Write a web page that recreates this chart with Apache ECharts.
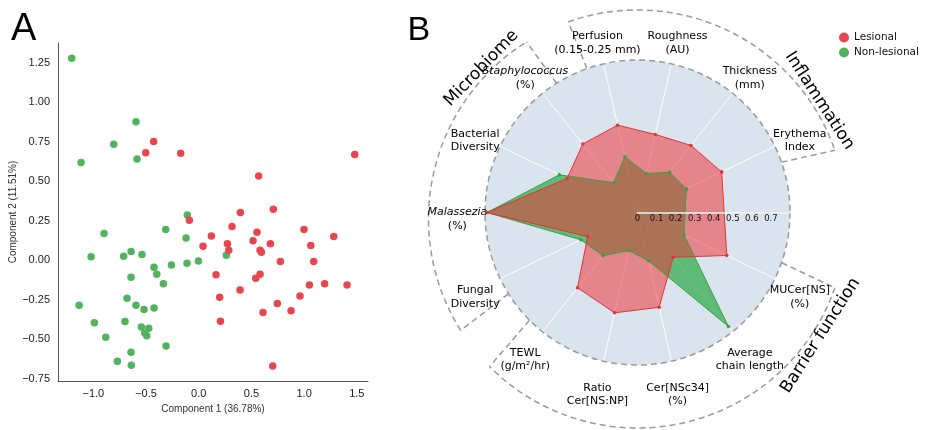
<!DOCTYPE html>
<html><head><meta charset="utf-8">
<script src="https://cdn.jsdelivr.net/npm/echarts@6/dist/echarts.min.js"></script>
<style>html,body{margin:0;padding:0;background:#fff}#c{width:931px;height:430px}</style>
</head><body><div id="c"></div>
<script>
// ---------------- Panel A : PCA scatter ----------------
const lesionalPCA = [[-0.427,0.751],[-0.503,0.681],[-0.171,0.677],[1.480,0.669],[0.569,0.534],[-0.089,0.253],[0.395,0.302],[0.708,0.323],[0.316,0.213],[0.120,0.154],[0.041,0.089],[0.272,0.105],[0.285,0.063],[0.553,0.177],[0.515,0.124],[0.582,0.063],[0.595,0.051],[0.680,0.105],[0.999,0.194],[1.063,0.093],[1.281,0.150],[0.775,-0.008],[1.091,-0.008],[0.164,-0.091],[0.582,-0.089],[0.541,-0.114],[0.392,-0.188],[1.050,-0.156],[1.195,-0.148],[1.407,-0.156],[0.199,-0.234],[0.961,-0.226],[0.746,-0.274],[0.610,-0.331],[0.876,-0.319],[0.206,-0.386],[0.702,-0.669]];
const nonLesionalPCA = [[-1.205,1.278],[-0.595,0.876],[-0.806,0.734],[-1.116,0.618],[-0.585,0.641],[-0.108,0.287],[-0.313,0.194],[-0.898,0.169],[-0.120,0.141],[-1.021,0.023],[-0.712,0.025],[-0.642,0.055],[-0.538,0.036],[-0.424,-0.044],[-0.398,-0.089],[-0.259,-0.030],[-0.111,-0.019],[-0.003,-0.004],[0.262,0.032],[-0.642,-0.108],[-0.335,-0.148],[-0.680,-0.241],[-1.135,-0.285],[-0.595,-0.285],[-0.519,-0.312],[-0.424,-0.302],[-0.699,-0.388],[-0.990,-0.395],[-0.544,-0.422],[-0.474,-0.430],[-0.512,-0.460],[-0.493,-0.477],[-0.882,-0.487],[-0.310,-0.542],[-0.642,-0.582],[-0.772,-0.639],[-0.639,-0.665]];
const xTickValues = [-1, -0.5, 0, 0.5, 1, 1.5];
const xTickLabels = ['\u22121.0', '\u22120.5', '0.0', '0.5', '1.0', '1.5'];
const yTickValues = [-0.75, -0.5, -0.25, 0, 0.25, 0.5, 0.75, 1, 1.25];
const yTickLabels = ['\u22120.75', '\u22120.50', '\u22120.25', '0.00', '0.25', '0.50', '0.75', '1.00', '1.25'];

// ---------------- Panel B : radar profile ----------------
// 14 angular slots; slot 0 (0 deg) carries the radial scale and has no variable.
const radarAxes = ['Erythema\nIndex', 'Thickness\n(mm)', 'Roughness\n(AU)', 'Perfusion\n(0.15-0.25 mm)',
  'Staphylococcus\n(%)', 'Bacterial\nDiversity', 'Malassezia\n(%)', 'Fungal\nDiversity',
  'TEWL\n(g/m\u00b2/hr)', 'Ratio\nCer[NS:NP]', 'Cer[NSc34]\n(%)', 'Average\nchain length', 'MUCer[NS]\n(%)'];
const italicNames = ['Staphylococcus', 'Malassezia'];
const lesionalProfile    = [0.49, 0.45, 0.42, 0.47, 0.46, 0.41, 0.79, 0.29, 0.505, 0.54, 0.51, 0.30, 0.52];
const nonLesionalProfile = [0.285, 0.27, 0.21, 0.30, 0.20, 0.455, 0.79, 0.33, 0.29, 0.205, 0.26, 0.765, 0.27];
const radialTickValues = [0, 0.1, 0.2, 0.3, 0.4, 0.5, 0.6, 0.7];
const radialTickLabels = ['0', '0.1', '0.2', '0.3', '0.4', '0.5', '0.6', '0.7'];
const radarGroups = [
  {name: 'Inflammation', first: 1, last: 4, titleAngle: 33},
  {name: 'Microbiome', first: 5, last: 8, titleAngle: 136},
  {name: 'Barrier function', first: 9, last: 13, titleAngle: 327.5}
];

// ---------------- layout constants ----------------
const SLOTS = 14;
const slotAngle = k => k * 360 / SLOTS;
const C = [637.5, 212.5], R = 152.5;        // radar centre / radius (px)
const BC = [637.5, 219], RB = 209, RT = 217;  // bracket arc centre / radius / title radius
const BRACKET_PAD = 6.5;
const LABEL_R = 0.945;                         // in radial-axis units
const RED = '#e8464e', GREEN = '#52b35e';

function pt(c, r, deg) { const a = deg * Math.PI / 180; return [c[0] + r * Math.cos(a), c[1] - r * Math.sin(a)]; }
function pick(vals, labs, v) { for (let i = 0; i < vals.length; i++) if (Math.abs(vals[i] - v) < 1e-9) return labs[i]; return ''; }
function closedLoop(profile) {
  const pts = profile.map((v, i) => [v, slotAngle(i + 1)]);
  pts.push([profile[0], slotAngle(1) + 360]);
  return pts;
}

const chart = echarts.init(document.getElementById('c'));

const graphics = [
  {type: 'text', x: 11, y: 30, style: {text: 'A', fontSize: 38, fontFamily: 'Liberation Sans', fill: '#000', align: 'left', verticalAlign: 'middle'}},
  {type: 'text', x: 407.5, y: 31, style: {text: 'B', fontSize: 34, fontFamily: 'Liberation Sans', fill: '#000', align: 'left', verticalAlign: 'middle'}}
];
const dash = {stroke: '#9a9a9a', lineWidth: 1.5, lineDash: [6, 4], fill: 'none'};
radarGroups.forEach(g => {
  const a1 = slotAngle(g.first) - BRACKET_PAD, a2 = slotAngle(g.last) + BRACKET_PAD;
  graphics.push({type: 'polyline', silent: true, shape: {points: [pt(C, R, a1), pt(BC, RB, a1)]}, style: dash});
  graphics.push({type: 'polyline', silent: true, shape: {points: [pt(C, R, a2), pt(BC, RB, a2)]}, style: dash});
  graphics.push({type: 'arc', silent: true, shape: {cx: BC[0], cy: BC[1], r: RB, startAngle: -a2 * Math.PI / 180, endAngle: -a1 * Math.PI / 180, clockwise: true}, style: dash});
  const t = pt(BC, RT, g.titleAngle);
  const rot = g.titleAngle > 180 ? g.titleAngle + 90 - 360 : g.titleAngle - 90;
  graphics.push({type: 'text', silent: true, x: t[0], y: t[1], rotation: rot * Math.PI / 180,
    style: {text: g.name, fontSize: 17, fontFamily: 'DejaVu Sans', fill: '#000', align: 'center', verticalAlign: 'middle'}});
});

const labelFont = {fontFamily: 'DejaVu Sans', fontSize: 11, color: '#000', lineHeight: 13.5};

chart.setOption({
  animation: false,
  backgroundColor: '#fff',
  textStyle: {fontFamily: 'DejaVu Sans'},
  graphic: graphics,
  legend: {
    data: ['Lesional', 'Non-lesional'], orient: 'vertical', left: 834, top: 27,
    icon: 'circle', itemWidth: 10, itemHeight: 10, itemGap: 4, selectedMode: false,
    textStyle: {fontFamily: 'DejaVu Sans', fontSize: 10.5, color: '#111'}
  },
  grid: {left: 58, right: 563, top: 43, bottom: 49, containLabel: false, outerBoundsMode: 'none'},
  xAxis: {
    type: 'value', min: -1.335, max: 1.606,
    name: 'Component 1 (36.78%)', nameLocation: 'middle', nameGap: 23,
    nameTextStyle: {fontFamily: 'Liberation Sans', fontSize: 10, color: '#333'},
    axisLine: {show: true, onZero: false, lineStyle: {color: '#555', width: 1}},
    axisTick: {show: false}, splitLine: {show: false},
    axisLabel: {customValues: xTickValues, formatter: v => pick(xTickValues, xTickLabels, v),
      fontFamily: 'Liberation Sans', fontSize: 11, color: '#222', margin: 7}
  },
  yAxis: {
    type: 'value', min: -0.764, max: 1.375,
    name: 'Component 2 (11.51%)', nameLocation: 'middle', nameGap: 40,
    nameTextStyle: {fontFamily: 'Liberation Sans', fontSize: 10, color: '#333'},
    axisLine: {show: true, onZero: false, lineStyle: {color: '#555', width: 1}},
    axisTick: {show: false}, splitLine: {show: false},
    axisLabel: {customValues: yTickValues, formatter: v => pick(yTickValues, yTickLabels, v),
      fontFamily: 'Liberation Sans', fontSize: 11, color: '#222', margin: 8}
  },
  polar: [
    {center: C, radius: R},
    {center: C, radius: R}
  ],
  angleAxis: [
    {polarIndex: 0, type: 'value', min: 0, max: 360, interval: 360 / SLOTS, startAngle: 0, clockwise: false,
      axisLine: {show: true, lineStyle: {color: '#999', width: 1.5, type: [6, 4]}},
      axisTick: {show: false}, axisLabel: {show: false},
      splitLine: {show: true, lineStyle: {color: '#ffffff', width: 1}}},
    {polarIndex: 1, type: 'value', min: 0, max: 360, startAngle: 0, clockwise: false,
      axisLine: {show: false}, axisTick: {show: false}, axisLabel: {show: false}, splitLine: {show: false}}
  ],
  radiusAxis: [
    {polarIndex: 0, type: 'value', min: 0, max: 0.8, interval: 0.1,
      axisLine: {show: false}, axisTick: {show: false}, axisLabel: {show: false},
      splitLine: {show: true, lineStyle: {color: '#ffffff', width: 1}},
      splitArea: {show: true, areaStyle: {color: ['#d9e4ef']}}},
    {polarIndex: 1, type: 'value', min: 0, max: 0.8, interval: 0.1, z: 5,
      axisLine: {show: true, lineStyle: {color: '#eeeeee', width: 1.5}},
      axisTick: {show: false}, splitLine: {show: false}, splitArea: {show: false},
      axisLabel: {customValues: radialTickValues, formatter: v => pick(radialTickValues, radialTickLabels, v),
        fontFamily: 'DejaVu Sans', fontSize: 8.5, color: '#111', margin: -6, verticalAlign: 'middle'}}
  ],
  series: [
    {name: 'Non-lesional', type: 'scatter', xAxisIndex: 0, yAxisIndex: 0, data: nonLesionalPCA,
      symbolSize: 7.5, itemStyle: {color: GREEN, opacity: 1}},
    {name: 'Lesional', type: 'scatter', xAxisIndex: 0, yAxisIndex: 0, data: lesionalPCA,
      symbolSize: 7.5, itemStyle: {color: RED, opacity: 1}},
    {name: 'Non-lesional', type: 'line', coordinateSystem: 'polar', polarIndex: 0, data: closedLoop(nonLesionalProfile),
      symbol: 'circle', symbolSize: 3.5, showSymbol: true, clip: false,
      lineStyle: {color: '#3c9e46', width: 1}, itemStyle: {color: '#3c9e46'},
      areaStyle: {color: '#28a945', opacity: 0.7}},
    {name: 'Lesional', type: 'line', coordinateSystem: 'polar', polarIndex: 0, data: closedLoop(lesionalProfile),
      symbol: 'circle', symbolSize: 3.5, showSymbol: true, clip: false,
      lineStyle: {color: '#e23236', width: 1}, itemStyle: {color: '#e23236'},
      areaStyle: {color: '#ed373b', opacity: 0.55}},
    {name: 'axis names', type: 'scatter', coordinateSystem: 'polar', polarIndex: 0, clip: false, silent: true,
      symbol: 'circle', symbolSize: 1, itemStyle: {color: 'rgba(0,0,0,0)'},
      data: radarAxes.map((n, i) => ({name: n, value: [LABEL_R, slotAngle(i + 1)]})),
      label: {show: true, position: 'inside', offset: [0, 6.5], align: 'center', verticalAlign: 'middle',
        textBorderWidth: 0, opacity: 1, ...labelFont,
        formatter: p => p.name.split('\n').map(s => italicNames.indexOf(s) >= 0 ? '{it|' + s + '}' : s).join('\n'),
        rich: {it: {fontStyle: 'italic', ...labelFont}}}}
  ]
});
</script></body></html>
